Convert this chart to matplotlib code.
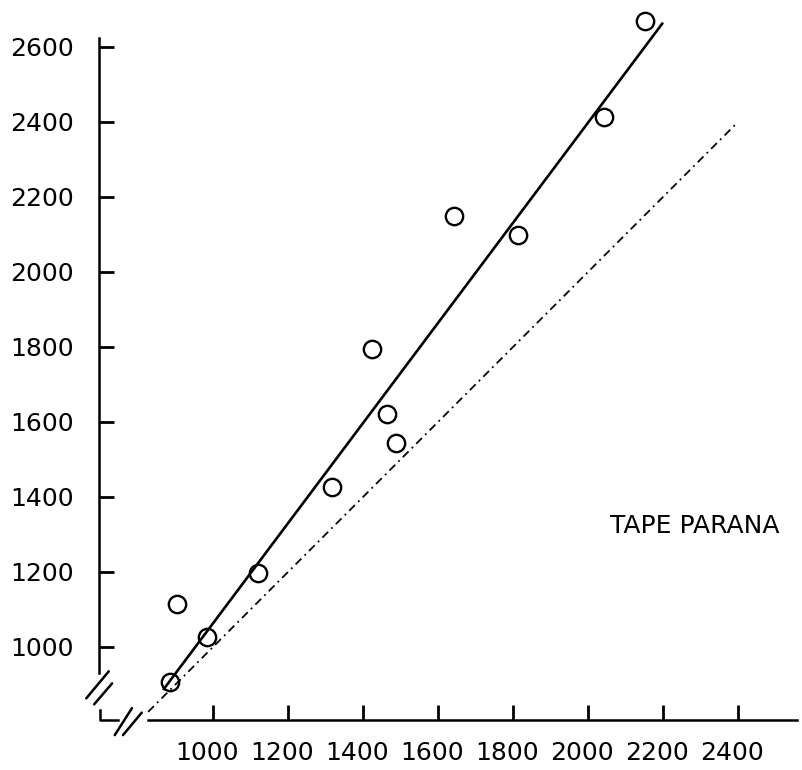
import numpy as np
import matplotlib
matplotlib.use('Agg')
import matplotlib.pyplot as plt
from matplotlib.transforms import ScaledTranslation

x_obs = [885, 904, 984, 1120, 1317, 1424, 1464, 1488, 1643, 1813, 2043, 2152]
y_obs = [907, 1115, 1027, 1197, 1427, 1795, 1621, 1544, 2149, 2099, 2413, 2669]

# Fitted line and the 1:1 line
fit_slope = 1.335
fit_intercept = -272
fit_x = [867, 2200]
one_to_one_x = [827, 2400]

x_ticks = [1000, 1200, 1400, 1600, 1800, 2000, 2200, 2400]
y_ticks = [1000, 1200, 1400, 1600, 1800, 2000, 2200, 2400, 2600]
label_text = 'TAPE PARANA'

fig = plt.figure(figsize=(8.02, 7.70), dpi=100)
ax = fig.add_axes([99 / 802, 50 / 770, 703 / 802, 720 / 770])
ax.set_xlim(696, 2570.7)
ax.set_ylim(805.3, 2725.3)

# 1:1 line (dash-dot)
ax.plot(one_to_one_x, one_to_one_x, color='black', lw=1.3,
        linestyle=(0, (4.5, 2.5, 1, 2.5)), clip_on=False)

# fitted line
fx = np.array(fit_x)
ax.plot(fx, fit_slope * fx + fit_intercept, color='black', lw=1.9,
        solid_capstyle='butt', clip_on=False)

# points
ax.plot(x_obs, y_obs, linestyle='none', marker='o', markersize=12.5,
        markerfacecolor='none', markeredgecolor='black', markeredgewidth=1.7,
        clip_on=False)

ax.text(2059, 1323, label_text, fontsize=18, ha='left', va='center')

# axes styling
for side in ['top', 'right']:
    ax.spines[side].set_visible(False)
ax.spines['left'].set_bounds(931, 2624)
ax.spines['bottom'].set_bounds(827, 2557)
ax.spines['left'].set_linewidth(1.8)
ax.spines['bottom'].set_linewidth(1.8)

ax.set_xticks(x_ticks)
ax.set_yticks(y_ticks)
ax.tick_params(axis='both', direction='in', length=11, width=2.0,
               labelsize=18)
ax.tick_params(axis='x', pad=15)
ax.tick_params(axis='y', pad=18)

# shift x labels a little left, as in the original
shift = ScaledTranslation(-6 / 100, 0, fig.dpi_scale_trans)
for lab in ax.get_xticklabels():
    lab.set_transform(lab.get_transform() + shift)

# axis break marks "//"
def break_mark(cx, cy, dx=30, dy=36):
    ax.plot([cx - dx, cx + dx], [cy - dy, cy + dy], color='black', lw=1.8,
            clip_on=False, solid_capstyle='round')

break_mark(692, 899)
break_mark(707, 875, 24, 28)
break_mark(761, 801, 23, 36)
break_mark(785, 795, 25, 30)

# small corner piece
ax.plot([699, 699, 747], [832, 805.3, 805.3], color='black', lw=1.8,
        clip_on=False)

fig.savefig('out.png', dpi=100)
